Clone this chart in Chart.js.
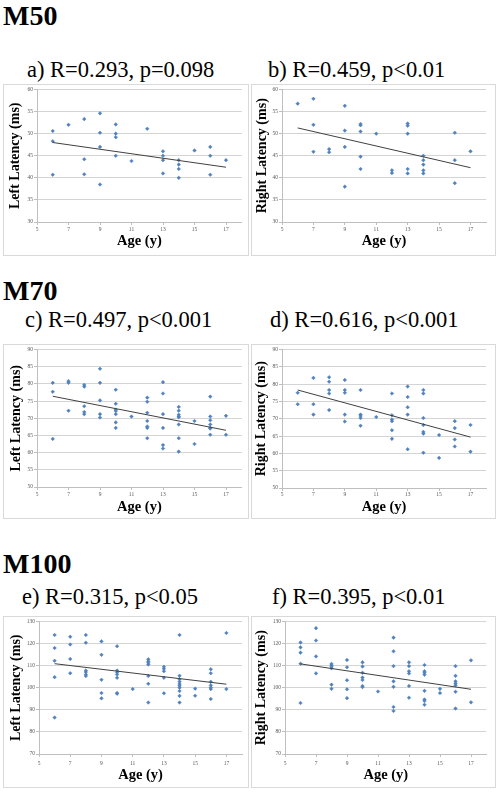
<!DOCTYPE html>
<html><head><meta charset="utf-8">
<script src="https://cdn.jsdelivr.net/npm/chart.js@4.4.0/dist/chart.umd.min.js"></script>
<style>
html,body{margin:0;padding:0;background:#fff;width:498px;height:792px;overflow:hidden;position:relative;}
.t{position:absolute;font-family:"Liberation Serif","Times New Roman",serif;line-height:1;white-space:nowrap;color:#000;}
.h{font-size:28px;font-weight:bold;}
.s{font-size:22.5px;}
.p{position:absolute;border:1px solid #d9d9d9;box-sizing:border-box;background:#fff;}
.p canvas{display:block;}
</style></head><body>

<div class="t h" style="left:3px;top:1.5px">M50</div>
<div class="t s" style="left:27px;top:59px">a) R=0.293, p=0.098</div>
<div class="t s" style="left:268px;top:59px">b) R=0.459, p&lt;0.01</div>
<div class="t h" style="left:3px;top:276.5px">M70</div>
<div class="t s" style="left:25px;top:309px">c) R=0.497, p&lt;0.001</div>
<div class="t s" style="left:270px;top:309px">d) R=0.616, p&lt;0.001</div>
<div class="t h" style="left:3px;top:549.5px">M100</div>
<div class="t s" style="left:22px;top:586px">e) R=0.315, p&lt;0.05</div>
<div class="t s" style="left:272px;top:586px">f) R=0.395, p&lt;0.01</div>

<div class="p" id="pa"><canvas id="ca"></canvas></div>
<div class="p" id="pb"><canvas id="cb"></canvas></div>
<div class="p" id="pc"><canvas id="cc"></canvas></div>
<div class="p" id="pd"><canvas id="cd"></canvas></div>
<div class="p" id="pe"><canvas id="ce"></canvas></div>
<div class="p" id="pf"><canvas id="cf"></canvas></div>

<script>
// ---------- DATA ----------
const ageTicks = [5, 7, 9, 11, 13, 15, 17];
const m50Ticks = [30, 35, 40, 45, 50, 55, 60];
const m70Ticks = [50, 55, 60, 65, 70, 75, 80, 85, 90];
const m100Ticks = [70, 80, 90, 100, 110, 120, 130];
const trendAges = [6, 17];

// a) M50 left
const m50LeftAge = [6,6,6, 7, 8,8,8, 9,9,9,9, 10,10,10,10, 11, 12, 13,13,13,13, 14,14,14,14, 15, 16,16,16, 17];
const m50LeftMs  = [50.6,48.3,40.7, 52.0, 53.3,44.2,40.8, 54.6,50.2,47.0,38.5, 52.1,50.0,49.2,45.0, 43.8, 51.1, 46.0,45.0,44.0,41.0, 44.0,43.0,42.0,40.0, 46.2, 47.0,45.0,40.7, 44.0];
const m50LeftTrend = [48.0, 42.4];

// b) M50 right
const m50RightAge = [6, 7,7,7, 8,8, 9,9,9,9, 10,10,10,10,10, 11, 12,12, 13,13,13,13,13, 14,14,14,14,14, 16,16,16, 17];
const m50RightMs  = [56.8, 57.9,52.0,45.9, 46.5,45.8, 56.3,50.7,47.0,38.0, 52.2,51.9,50.5,44.8,42.0, 50.0, 41.7,41.1, 52.3,51.8,50.0,42.0,41.0, 45.0,44.0,43.0,41.7,41.0, 50.2,44.0,38.8, 46.0];
const m50RightTrend = [51.3, 42.3];

// c) M70 left
const m70LeftAge = [6,6,6, 7,7,7, 8,8,8,8,8, 9,9,9,9,9, 10,10,10,10,10,10,10, 11, 12,12,12,12,12,12,12, 13,13,13,13,13,13, 14,14,14,14,14,14,14,14, 15,15, 16,16,16,16,16,16,16, 17,17];
const m70LeftMs  = [80.3,77.7,64.0, 80.8,80.3,72.2, 79.7,79.2,73.5,71.8,71.2, 84.4,80.3,75.2,71.2,70.2, 78.3,74.2,72.5,72.1,71.2,68.8,67.2, 70.5, 76.0,74.8,71.6,69.2,67.6,67.2,64.2, 80.5,77.2,71.2,67.2,62.2,61.2, 73.3,72.2,71.0,70.5,70.3,68.2,64.2,60.3, 69.2,62.5, 76.3,70.5,69.4,68.2,67.2,67.0,65.2, 70.7,65.2];
const m70LeftTrend = [76.4, 66.5];

// d) M70 right
const m70RightAge = [6,6, 7,7,7, 8,8,8,8,8, 9,9,9,9,9, 10,10,10,10,10, 11, 12,12,12,12,12,12, 13,13,13,13,13, 14,14,14,14,14,14,14, 15,15, 16,16,16,16, 17,17];
const m70RightMs  = [77.5,74.2, 81.8,74.2,71.2, 82.0,80.7,78.3,77.3,72.5, 81.2,78.3,77.5,71.2,69.2, 78.3,71.2,70.8,70.2,68.0, 70.5, 77.3,71.0,69.8,69.3,66.7,64.2, 79.3,76.3,73.3,71.2,61.2, 78.3,77.3,70.2,68.2,66.2,65.7,60.2, 65.3,58.7, 69.3,67.3,64.0,62.0, 68.2,60.5];
const m70RightTrend = [78.3, 64.7];

// e) M100 left
const m100LeftAge = [6,6,6,6,6, 7,7,7,7, 8,8,8,8,8,8, 9,9,9,9,9, 10,10,10,10,10,10,10, 11, 12,12,12,12,12,12,12, 13,13,13,13,13, 14,14,14,14,14,14,14,14,14,14, 15,15, 16,16,16,16,16,16,16, 17,17];
const m100LeftMs  = [123.9,118.0,112.2,104.8,86.5, 123.1,119.6,113.0,106.6, 123.9,120.4,107.8,107.1,106.0,105.3, 121.0,114.9,103.6,97.6,95.2, 118.8,107.8,106.9,106.0,104.5,97.6,97.3, 99.4, 112.9,112.0,111.3,110.5,105.3,101.8,93.3, 109.5,108.6,107.5,104.5,97.5, 123.9,105.4,103.9,102.7,101.7,100.9,100.0,98.5,96.3,93.3, 99.6,96.4, 108.4,106.6,102.7,101.1,100.1,99.4,94.9, 124.8,99.4];
const m100LeftTrend = [110.9, 101.6];

// f) M100 right
const m100RightAge = [6,6,6,6,6, 7,7,7,7, 8,8,8,8,8,8, 9,9,9,9,9, 10,10,10,10,10,10,10, 11, 12,12,12,12,12,12,12, 13,13,13,13,13,13, 14,14,14,14,14,14,14,14, 15,15, 16,16,16,16,16,16,16, 17,17];
const m100RightMs  = [120.5,118.3,115.9,110.9,93.1, 127.0,121.4,114.2,106.5, 110.8,110.2,109.5,108.8,101.4,99.5, 112.6,109.3,103.4,99.3,95.3, 111.5,109.6,106.8,104.6,103.5,100.8,100.3, 98.3, 122.7,116.5,109.8,102.9,100.4,91.3,89.5, 111.5,109.8,107.5,106.5,100.8,95.5, 110.3,107.5,106.8,105.9,98.6,94.7,94.0,92.3, 99.5,97.6, 109.8,105.4,102.9,101.9,101.1,98.2,90.6, 112.4,93.4];
const m100RightTrend = [110.8, 99.3];

// ---------- LAYOUT (absolute page px) ----------
const panels = [
  {id:'a', L:3,   T:84,  W:246, H:172, pL:37,  pR:241.75, pT:88,  pB:222, yT:17,    xT:243.5, xg:8,
   age:m50LeftAge, ms:m50LeftMs, tr:m50LeftTrend, ticks:m50Ticks, step:5, yLabel:'Left Latency (ms)'},
  {id:'b', L:251, T:84,  W:245, H:172, pL:282, pR:486.2,  pT:87.5,pB:222, yT:264,   xT:243.5, xg:8,
   age:m50RightAge, ms:m50RightMs, tr:m50RightTrend, ticks:m50Ticks, step:5, yLabel:'Right Latency (ms)'},
  {id:'c', L:3,   T:344, W:246, H:175, pL:37,  pR:241.75, pT:347, pB:487, yT:17.5,  xT:509.5, xg:7.3,
   age:m70LeftAge, ms:m70LeftMs, tr:m70LeftTrend, ticks:m70Ticks, step:5, yLabel:'Left Latency (ms)'},
  {id:'d', L:251, T:344, W:245, H:175, pL:282, pR:486.2,  pT:347, pB:488, yT:262.5, xT:509.5, xg:6.5,
   age:m70RightAge, ms:m70RightMs, tr:m70RightTrend, ticks:m70Ticks, step:5, yLabel:'Right Latency (ms)'},
  {id:'e', L:3,   T:616, W:246, H:172, pL:39,  pR:242,    pT:621, pB:754, yT:17.5,  xT:777.5, xg:10,
   age:m100LeftAge, ms:m100LeftMs, tr:m100LeftTrend, ticks:m100Ticks, step:10, yLabel:'Left Latency (ms)'},
  {id:'f', L:251, T:616, W:245, H:172, pL:285, pR:486.5,  pT:620, pB:754, yT:262.5, xT:777,   xg:9.7,
   age:m100RightAge, ms:m100RightMs, tr:m100RightTrend, ticks:m100Ticks, step:10, yLabel:'Right Latency (ms)'}
];

const SERIF = '"Liberation Serif","Times New Roman",serif';
const tickFont = {family: SERIF, size: 5.5, lineHeight: 1.2};
const TICK_COLOR = '#595959';

panels.forEach(p => {
  const box = document.getElementById('p' + p.id);
  box.style.left = p.L + 'px'; box.style.top = p.T + 'px';
  box.style.width = p.W + 'px'; box.style.height = p.H + 'px';
  const cv = document.getElementById('c' + p.id);
  const iw = p.W - 2, ih = p.H - 2;
  cv.width = iw; cv.height = ih;
  cv.style.width = iw + 'px'; cv.style.height = ih + 'px';
  const iL = p.L + 1, iT = p.T + 1, iB = iT + ih, iR = iL + iw;

  const yWidth = p.pL - iL;
  const xHeight = iB - p.pB;
  const padTop = p.pT - iT;
  const padRight = iR - p.pR;
  const yTitlePad = Math.max(0, p.yT - 1.6 - iL - 7);
  const xTitlePad = Math.max(0, iB - p.xT + 1.6 - 7);
  const xTickPad = Math.max(0, p.xg - 3 - 3.3);

  const pts = p.age.map((a, i) => ({x: a, y: p.ms[i]}));
  const trend = trendAges.map((a, i) => ({x: a, y: p.tr[i]}));

  new Chart(cv, {
    type: 'scatter',
    data: {
      datasets: [
        {type: 'line', data: trend, borderColor: '#404040', borderWidth: 1,
         pointRadius: 0, fill: false, tension: 0, order: 0},
        {data: pts, pointStyle: 'rectRot', pointRadius: 1.8,
         backgroundColor: '#4F81BD', borderColor: '#4F81BD', borderWidth: 0.5, order: 1}
      ]
    },
    options: {
      responsive: false, animation: false, devicePixelRatio: 1,
      layout: {padding: {left: 0, top: padTop, right: padRight, bottom: 0}},
      plugins: {legend: {display: false}, tooltip: {enabled: false}},
      scales: {
        x: {
          type: 'linear', min: 5, max: 18,
          afterBuildTicks: s => { s.ticks = ageTicks.map(v => ({value: v})); },
          afterFit: s => { s.height = xHeight; },
          grid: {display: true, drawOnChartArea: false, drawTicks: true, tickLength: 3, tickColor: '#bfbfbf'},
          border: {display: true, color: '#bfbfbf', width: 1},
          ticks: {font: tickFont, color: TICK_COLOR, padding: xTickPad, maxRotation: 0, autoSkip: false},
          title: {display: true, text: 'Age (y)', color: '#000',
                  font: {family: SERIF, size: 14.5, weight: 'bold', lineHeight: 1},
                  padding: {top: 0, bottom: xTitlePad}}
        },
        y: {
          type: 'linear', min: p.ticks[0], max: p.ticks[p.ticks.length - 1],
          afterBuildTicks: s => { s.ticks = p.ticks.map(v => ({value: v})); },
          afterFit: s => { s.width = yWidth; },
          grid: {display: true, color: '#d4d4d4', lineWidth: 1, drawTicks: true, tickLength: 3, tickColor: '#bfbfbf'},
          border: {display: true, color: '#bfbfbf', width: 1},
          ticks: {font: tickFont, color: TICK_COLOR, padding: 1, autoSkip: false},
          title: {display: true, text: p.yLabel, color: '#000',
                  font: {family: SERIF, size: 14, weight: 'bold', lineHeight: 1},
                  padding: {top: yTitlePad, bottom: 0}}
        }
      }
    }
  });
});
</script>
</body></html>
